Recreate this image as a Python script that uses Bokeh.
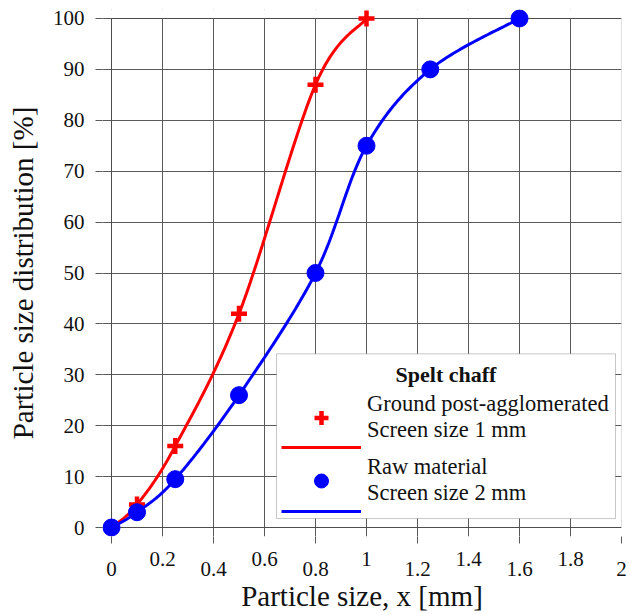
import numpy as np
from bokeh.plotting import figure
from bokeh.models import (Range1d, FixedTicker, Legend, LegendItem, Label,
                          BoxAnnotation)
from bokeh.embed import file_html
from bokeh.resources import INLINE
from bokeh.core.properties import value

# ---------------- data ----------------
red_x = [0, 0.1, 0.25, 0.5, 0.8, 1.0]
red_y = [0, 4.5, 16, 42, 87, 100]
blue_x = [0, 0.1, 0.25, 0.5, 0.8, 1.0, 1.25, 1.6]
blue_y = [0, 3, 9.5, 26, 50, 75, 90, 100]

x_ticks = [0, 0.2, 0.4, 0.6, 0.8, 1.0, 1.2, 1.4, 1.6, 1.8, 2.0]
x_tick_labels = ["0", "0.2", "0.4", "0.6", "0.8", "1", "1.2", "1.4", "1.6", "1.8", "2"]
y_ticks = [0, 10, 20, 30, 40, 50, 60, 70, 80, 90, 100]

red_label = "Ground post-agglomerated\nScreen size 1 mm"
blue_label = "Raw material\nScreen size 2 mm"
legend_title = "Spelt chaff"
x_title = "Particle size, x [mm]"
y_title = "Particle size distribution [%]"

# ---------------- layout constants ----------------
X_RANGE = (0, 2)
Y_RANGE = (0, 100)
AX_PX = 510          # pixel length of the 0..2 / 0..100 box
PAD = 9              # extra frame so edge markers are not cut
FONT = "Liberation Serif"
INK = "#111111"
GRID = "#5a5a5a"

ux = (X_RANGE[1] - X_RANGE[0]) / AX_PX   # data units per pixel
uy = (Y_RANGE[1] - Y_RANGE[0]) / AX_PX


def smooth(xs, ys, n=40):
    """Excel-like smoothed line (uniform Catmull-Rom / Bezier) through the
    data points, computed in normalised plot space."""
    sx = X_RANGE[1] - X_RANGE[0]
    sy = Y_RANGE[1] - Y_RANGE[0]
    P = np.column_stack([np.asarray(xs, float) / sx, np.asarray(ys, float) / sy])
    P = np.vstack([P[0], P, P[-1]])
    out = []
    for i in range(1, len(P) - 2):
        p0, p1, p2, p3 = P[i - 1], P[i], P[i + 1], P[i + 2]
        c1 = p1 + (p2 - p0) / 6.0
        c2 = p2 - (p3 - p1) / 6.0
        t = np.linspace(0, 1, n)[:, None]
        seg = ((1 - t) ** 3) * p1 + 3 * ((1 - t) ** 2) * t * c1 \
            + 3 * (1 - t) * t ** 2 * c2 + t ** 3 * p2
        out.append(seg if i == 1 else seg[1:])
    Q = np.vstack(out)
    return Q[:, 0] * sx, Q[:, 1] * sy


p = figure(width=629, height=615, output_backend="svg", toolbar_location=None,
           x_range=Range1d(X_RANGE[0] - PAD * ux, X_RANGE[1]),
           y_range=Range1d(Y_RANGE[0] - PAD * uy, Y_RANGE[1] + PAD * uy),
           min_border_left=102, min_border_right=8, min_border_top=9,
           min_border_bottom=78)
p.background_fill_color = "white"
p.border_fill_color = "white"
p.outline_line_color = None

# x axis: staggered labels (every other label pushed one short line down)
xa = p.xaxis[0]
xa.ticker = FixedTicker(ticks=x_ticks, minor_ticks=x_ticks[::2])
xa.major_label_overrides = {
    t: (("\n" + l) if i % 2 == 0 else l)
    for i, (t, l) in enumerate(zip(x_ticks, x_tick_labels))
}
xa.major_tick_out = 0
xa.major_tick_in = 0
xa.minor_tick_out = 7
xa.minor_tick_in = 0
xa.major_tick_line_color = GRID
xa.minor_tick_line_color = GRID
xa.axis_line_color = None
xa.major_label_standoff = 3
xa.major_label_text_font = FONT
xa.major_label_text_font_size = "21px"
xa.major_label_text_line_height = 0.45
xa.major_label_text_color = INK
xa.axis_label = x_title
xa.axis_label_text_font = FONT
xa.axis_label_text_font_size = "29px"
xa.axis_label_text_font_style = "normal"
xa.axis_label_text_color = INK
xa.axis_label_standoff = -4

ya = p.yaxis[0]
ya.ticker = FixedTicker(ticks=y_ticks)
ya.major_tick_out = 7
ya.major_tick_in = 0
ya.minor_tick_line_color = None
ya.major_tick_line_color = GRID
ya.axis_line_color = None
ya.major_label_standoff = 11
ya.major_label_text_font = FONT
ya.major_label_text_font_size = "21px"
ya.major_label_text_color = INK
ya.axis_label = y_title
ya.axis_label_text_font = FONT
ya.axis_label_text_font_size = "29px"
ya.axis_label_text_font_style = "normal"
ya.axis_label_text_color = INK
ya.axis_label_standoff = 11

p.xgrid.ticker = FixedTicker(ticks=x_ticks)
p.ygrid.ticker = FixedTicker(ticks=y_ticks)
for g in (p.xgrid[0], p.ygrid[0]):
    g.grid_line_color = GRID
    g.grid_line_width = 1

# hide grid overshoot above the 100 % line, then draw the plot box
p.add_layout(BoxAnnotation(bottom=Y_RANGE[1] + 0.6 * uy, fill_color="white",
                           fill_alpha=1, line_color=None, level="underlay"))
p.add_layout(BoxAnnotation(left=X_RANGE[0], right=X_RANGE[1],
                           bottom=Y_RANGE[0], top=Y_RANGE[1],
                           fill_alpha=0, line_color="#333333", line_width=1,
                           level="underlay"))

# series
rx, ry = smooth(red_x, red_y)
bx, by = smooth(blue_x, blue_y)
r_line = p.line(rx, ry, line_color="#ff0000", line_width=3)
r_mark = p.scatter(red_x, red_y, marker="cross", size=16, line_color="#ff0000",
                   line_width=4.5)
b_line = p.line(bx, by, line_color="#0000ff", line_width=3)
b_mark = p.scatter(blue_x, blue_y, marker="circle", size=17, fill_color="#0000ff",
                   line_color="#0000ff")

# legend frame (box position in axis units)
LEG_L, LEG_R, LEG_B, LEG_T = 165 * ux, 504 * ux, 9 * uy, 174 * uy
p.add_layout(BoxAnnotation(left=LEG_L, right=LEG_R, bottom=LEG_B, top=LEG_T,
                           fill_color="white", fill_alpha=1,
                           line_color="#444444", line_width=1))


def style_legend(lg):
    lg.glyph_width = 80
    lg.padding = 4
    lg.margin = 0
    lg.border_line_color = None
    lg.background_fill_alpha = 0
    lg.label_text_font = FONT
    lg.label_text_color = INK


# marker + description rows
legend_marks = Legend(items=[
    LegendItem(label=value(red_label), renderers=[r_mark]),
    LegendItem(label=value(blue_label), renderers=[b_mark]),
], location=(179, 30))
style_legend(legend_marks)
legend_marks.label_text_font_size = "22.5px"
legend_marks.label_text_line_height = 1.15
legend_marks.glyph_height = 35
legend_marks.label_height = 10
legend_marks.label_standoff = 6
legend_marks.spacing = 11
p.add_layout(legend_marks)

# line sample rows (one under each marker row)
legend_lines = Legend(items=[
    LegendItem(label=value(" "), renderers=[r_line]),
    LegendItem(label=value(" "), renderers=[b_line]),
], location=(179, 12))
style_legend(legend_lines)
legend_lines.label_text_font_size = "8px"
legend_lines.glyph_height = 26
legend_lines.label_height = 8
legend_lines.label_standoff = 0
legend_lines.spacing = 38
p.add_layout(legend_lines)

# centred legend heading
p.add_layout(Label(x=(LEG_L + LEG_R) / 2, y=LEG_T - 21 * uy, text=legend_title,
                   text_align="center", text_baseline="middle", text_font=FONT,
                   text_font_size="22px", text_font_style="bold",
                   text_color=INK, level="overlay"))

open("out.html", "w").write(file_html(p, INLINE))
